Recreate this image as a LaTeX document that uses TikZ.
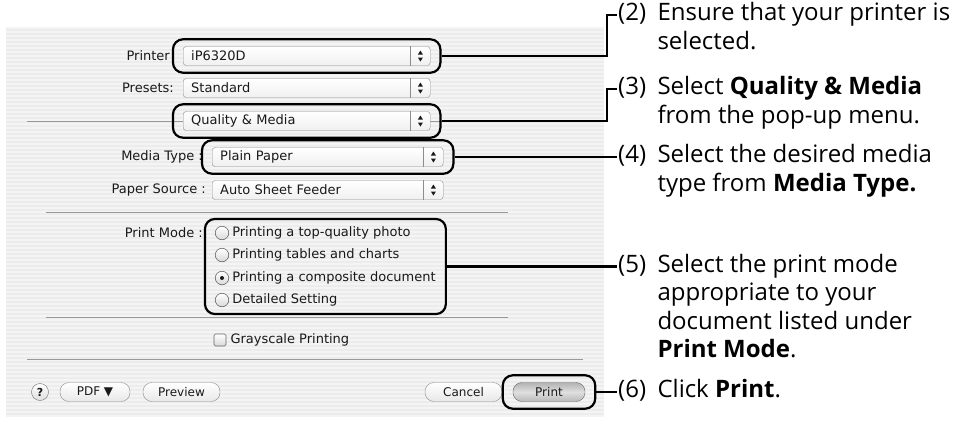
\documentclass[tikz,border=0pt]{standalone}
\usepackage{fontspec}
\setmainfont{Open Sans}
\newfontfamily\uifont{DejaVu Sans}
\usetikzlibrary{fit}
\definecolor{panelgray}{gray}{0.925}
\definecolor{stripegray}{gray}{0.955}
\definecolor{rulegray}{gray}{0.6}
\definecolor{uitext}{gray}{0.1}
\begin{document}
\begin{tikzpicture}[x=1pt, y=-1pt,
	ui/.style={font=\uifont\fontsize{13}{15}\selectfont, text=uitext},
	lbl/.style={ui, anchor=east, inner sep=0pt},
	popup/.style={ui, draw=black!45, rounded corners=3pt, top color=white, bottom color=gray!12, minimum height=19pt, inner sep=0pt, inner xsep=8pt, anchor=west, text width=#1, align=left},
	radio/.style={circle, draw=black!60, line width=0.6pt, inner sep=0pt, minimum size=13.5pt, top color=white, bottom color=gray!30},
	opt/.style={ui, anchor=west, inner sep=0pt},
	btn/.style={ui, draw=black!45, rounded corners=9pt, top color=white, bottom color=gray!18, minimum height=19pt, inner sep=0pt, font=\uifont\fontsize{12}{14}\selectfont},
	hl/.style={draw, line width=2.2pt, rounded corners=10pt, inner xsep=10pt, inner ysep=7pt},
	conn/.style={line width=2.2pt},
	num/.style={anchor=west, inner sep=1pt, font=\fontsize{24}{28.5}\selectfont},
	note/.style={anchor=north west, inner sep=1pt, align=left, font=\fontsize{24}{28.5}\selectfont}
]
	\useasboundingbox (0,0) rectangle (968,421);
	\fill[panelgray] (6,27) rectangle (604,417);
	\foreach \y in {28,32,...,416}
		\draw[stripegray, line width=1.2pt] (6,\y) -- (604,\y);

	\draw[rulegray, line width=0.8pt] (27,121) -- (583,121);
	\draw[rulegray, line width=0.8pt] (46,212) -- (508,212);
	\draw[rulegray, line width=0.8pt] (46,317) -- (508,317);
	\draw[rulegray, line width=0.8pt] (27,359) -- (583,359);

	\node[lbl] (lprinter) at (170,56) {Printer};
	\node[lbl] (lpresets) at (174,88) {Presets:};
	\node[lbl] (lmedia) at (203,157) {Media Type :};
	\node[lbl] (lsource) at (206,190) {Paper Source :};
	\node[lbl] (lmode) at (203,233) {Print Mode :};

	\node[popup=231pt] (pprinter) at (183,56) {iP6320D};
	\node[popup=231pt] (ppresets) at (183,88) {Standard};
	\node[popup=231pt] (pmenu) at (183,121) {Quality \& Media};
	\node[popup=215pt] (pmedia) at (212,157) {Plain Paper};
	\node[popup=215pt] (psource) at (212,190) {Auto Sheet Feeder};
	\foreach \p in {pprinter,ppresets,pmenu,pmedia,psource} {
		\draw[black!45] ([xshift=-20pt]\p.north east) -- ([xshift=-20pt]\p.south east);
		\fill[uitext] ([xshift=-12.5pt,yshift=1.5pt]\p.east) -- ++(5,0) -- ++(-2.5,-4) -- cycle;
		\fill[uitext] ([xshift=-12.5pt,yshift=-1.5pt]\p.east) -- ++(5,0) -- ++(-2.5,4) -- cycle;
	}

	\foreach \i/\y/\t in {1/233/Printing a top-quality photo, 2/255/Printing tables and charts, 3/278/Printing a composite document, 4/300/Detailed Setting} {
		\node[radio] (r\i) at (222,\y) {};
		\node[opt] (m\i) at ([xshift=3pt]r\i.east) {\t};
	}
	\fill[uitext] (r3) circle (2pt);

	\node[draw=black!60, line width=0.6pt, rounded corners=1.5pt, minimum size=12pt, inner sep=0pt, top color=white, bottom color=gray!30] (cgray) at (220,340) {};
	\node[opt] (tgray) at ([xshift=4pt]cgray.east) {Grayscale Printing};

	\node[circle, draw=black!55, inner sep=0pt, minimum size=17pt, top color=white, bottom color=gray!25, ui, font=\uifont\bfseries\fontsize{11}{13}\selectfont] (bhelp) at (40,392) {?};
	\node[btn, minimum width=70pt] (bpdf) at (95,392) {PDF ▼};
	\node[btn, minimum width=77pt] (bpreview) at (181.5,392) {Preview};
	\node[btn, minimum width=77pt] (bcancel) at (463.5,392) {Cancel};
	\node[btn, minimum width=72pt, draw=black!60, top color=gray!60, bottom color=gray!55, middle color=gray!25] (bprint) at (549,392) {Print};

	\node[hl, fit=(pprinter)] (hlprinter) {};
	\node[hl, fit=(pmenu)] (hlmenu) {};
	\node[hl, fit=(pmedia)] (hlmedia) {};
	\node[hl, fit=(r1)(m3)(r4)] (hlmode) {};
	\node[hl, fit=(bprint)] (hlprint) {};

	\node[num] (n2) at (617,15) {\strut(2)};
	\node[note] (t2) at ([xshift=9pt]n2.north east) {\strut Ensure that your printer is\\selected.};
	\node[num] (n3) at (617,89) {\strut(3)};
	\node[note] (t3) at ([xshift=9pt]n3.north east) {\strut Select \textbf{Quality \& Media}\\from the pop-up menu.};
	\node[num] (n4) at (617,0 |- hlmedia.east) {\strut(4)};
	\node[note] (t4) at ([xshift=9pt]n4.north east) {\strut Select the desired media\\type from \textbf{Media Type.}};
	\node[num] (n5) at (617,0 |- hlmode.east) {\strut(5)};
	\node[note] (t5) at ([xshift=9pt]n5.north east) {\strut Select the print mode\\appropriate to your\\document listed under\\\textbf{Print Mode}.};
	\node[num] (n6) at (617,0 |- hlprint.east) {\strut(6)};
	\node[note] (t6) at ([xshift=9pt]n6.north east) {\strut Click \textbf{Print}.};

	\draw[conn] (hlprinter.east) -| ([xshift=-10pt]n2.west) -- (n2.west);
	\draw[conn] (hlmenu.east) -| ([xshift=-10pt]n3.west) -- (n3.west);
	\draw[conn] (hlmedia.east) -- (n4.west);
	\draw[conn] (hlmode.east) -- (n5.west);
	\draw[conn] (hlprint.east) -- (n6.west);
\end{tikzpicture}
\end{document}
